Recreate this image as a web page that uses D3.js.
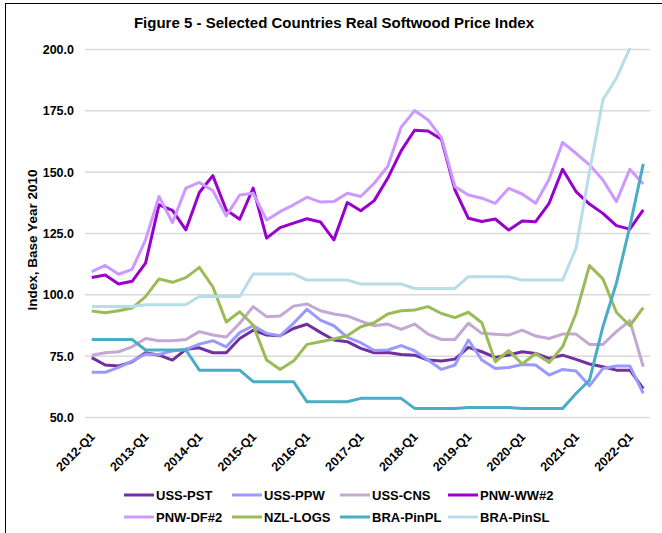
<!DOCTYPE html>
<html><head><meta charset="utf-8">
<script src="https://cdn.jsdelivr.net/npm/d3@7"></script>
<style>
html,body{margin:0;padding:0;background:#fff;}
svg{display:block;font-family:"Liberation Sans",Arial,sans-serif;}
</style></head>
<body><svg id="c" width="662" height="533"></svg>
<script>
const categories = [
 "2012-Q1","2012-Q2","2012-Q3","2012-Q4","2013-Q1","2013-Q2","2013-Q3","2013-Q4",
 "2014-Q1","2014-Q2","2014-Q3","2014-Q4","2015-Q1","2015-Q2","2015-Q3","2015-Q4",
 "2016-Q1","2016-Q2","2016-Q3","2016-Q4","2017-Q1","2017-Q2","2017-Q3","2017-Q4",
 "2018-Q1","2018-Q2","2018-Q3","2018-Q4","2019-Q1","2019-Q2","2019-Q3","2019-Q4",
 "2020-Q1","2020-Q2","2020-Q3","2020-Q4","2021-Q1","2021-Q2","2021-Q3","2021-Q4",
 "2022-Q1","2022-Q2"];
const tickLabels = ["2012-Q1","2013-Q1","2014-Q1","2015-Q1","2016-Q1","2017-Q1","2018-Q1","2019-Q1","2020-Q1","2021-Q1","2022-Q1"];
const yTicks = [50,75,100,125,150,175,200];

const seriesNames = ["USS-PST","USS-PPW","USS-CNS","PNW-WW#2","PNW-DF#2","NZL-LOGS","BRA-PinPL","BRA-PinSL"];
const ussPST = [74.4,71.4,71.0,72.7,76.4,75.4,73.4,77.8,78.4,76.4,76.4,82.2,85.6,83.6,83.3,86.3,88.0,84.7,81.6,80.9,78.2,76.4,76.5,75.7,75.4,73.4,73.0,73.8,78.6,76.8,74.5,75.5,76.8,76.1,74.1,75.4,73.7,71.8,70.7,69.3,69.3,61.8];
const ussPPW = [68.4,68.4,70.4,73.0,75.9,75.7,77.1,77.8,79.9,81.3,78.8,84.6,87.4,84.3,83.3,88.4,94.1,89.7,87.4,82.7,80.5,77.3,77.5,79.3,77.2,73.4,69.6,71.4,81.6,73.4,70.0,70.4,71.6,71.4,67.3,69.6,69.0,62.9,70.0,71.0,71.0,59.8];
const ussCNS = [75.4,76.4,76.8,78.8,82.2,81.3,81.3,81.8,85.0,83.6,82.8,88.4,95.2,91.1,91.4,95.4,96.3,93.5,92.2,91.4,89.3,87.4,88.1,85.9,88.1,84.0,81.8,81.8,88.4,84.3,83.9,83.6,85.6,83.2,82.2,84.0,84.0,79.8,79.8,85.0,89.5,70.7];
const pnwWW2 = [107.1,108.1,104.4,105.5,112.9,136.7,134.4,126.5,141.7,148.6,134.6,130.8,143.5,123.1,127.4,129.2,131.0,129.7,122.4,137.6,134.3,138.4,147.5,158.7,167.1,166.8,163.4,142.8,131.2,129.9,130.9,126.4,130.1,129.8,137.3,151.2,142.1,137.0,133.2,128.2,126.8,134.6];
const pnwDF2 = [109.5,112.0,108.4,110.4,122.4,140.1,129.5,143.5,145.8,142.5,132.2,140.7,141.4,130.5,133.9,136.7,139.8,137.8,138.0,141.4,140.1,145.5,152.3,168.3,175.1,171.3,164.1,144.1,140.7,139.4,137.3,143.4,141.1,137.3,147.1,162.1,157.7,153.0,146.8,138.0,151.2,145.2];
const nzlLOGS = [93.4,92.7,93.5,94.6,99.3,106.5,105.1,107.0,111.2,103.3,88.9,93.1,87.7,73.4,69.6,73.0,79.8,80.9,82.0,83.3,87.0,88.6,92.2,93.5,93.8,95.2,92.4,90.7,92.9,88.6,72.7,77.3,71.8,76.1,72.4,78.8,92.4,111.9,106.5,92.9,87.4,94.8];
const braPinPL = [81.8,81.8,81.8,81.8,77.5,77.5,77.5,77.5,69.3,69.3,69.3,69.3,64.6,64.6,64.6,64.6,56.4,56.4,56.4,56.4,57.8,57.8,57.8,57.8,53.7,53.7,53.7,53.7,54.1,54.1,54.1,54.1,53.7,53.7,53.7,53.7,59.8,65.2,87.0,104.7,127.8,153.4];
const braPinSL = [95.2,95.2,95.2,95.2,96.0,96.0,96.0,96.0,99.3,99.3,99.3,99.3,108.5,108.5,108.5,108.5,106.0,106.0,106.0,106.0,104.4,104.4,104.4,104.4,102.6,102.6,102.6,102.6,107.4,107.4,107.4,107.4,106.0,106.0,106.0,106.0,119.0,150.2,179.5,188.3,200.5,212.0];

const seriesValues = [ussPST,ussPPW,ussCNS,pnwWW2,pnwDF2,nzlLOGS,braPinPL,braPinSL];
const colors = ["#7030a0","#9999ff","#c3a8d3","#9900cc","#cc99ff","#9bbb59","#4bacc6","#b7dee8"];

const svg = d3.select("#c");
const L = 85, R = 650, T = 49.5, B = 417.5;

// frame
svg.append("rect").attr("x",5.5).attr("y",3.5).attr("width",700).attr("height",600)
  .attr("fill","none").attr("stroke","#000").attr("stroke-width",1);

const x = d3.scaleBand().domain(categories).range([L,R]).padding(0);
const xc = d => x(d) + x.bandwidth()/2;
const y = d3.scaleLinear().domain([50,200]).range([B,T]);

// gridlines
svg.append("g").selectAll("line").data(yTicks).join("line")
  .attr("x1",L).attr("x2",R).attr("y1",d=>y(d)).attr("y2",d=>y(d))
  .attr("stroke","#d9d9d9").attr("stroke-width",1.5);

// y axis labels
const yAxis = d3.axisLeft(y).tickValues(yTicks).tickFormat(d3.format(".1f")).tickSize(0).tickPadding(11);
const gy = svg.append("g").attr("transform",`translate(${L},0)`).call(yAxis);
gy.select(".domain").remove();
gy.selectAll("text").attr("font-size","12.5px").attr("font-weight","bold").attr("fill","#000")
  .attr("font-family","'Liberation Sans',Arial,sans-serif");

// x labels
const xAxis = d3.axisBottom(x).tickValues(tickLabels).tickSize(0).tickPadding(0);
const gx = svg.append("g").attr("transform",`translate(0,${B})`).call(xAxis);
gx.select(".domain").remove();
gx.selectAll("text").attr("font-size","12.5px").attr("font-weight","bold").attr("fill","#000")
  .attr("font-family","'Liberation Sans',Arial,sans-serif")
  .attr("text-anchor","end").attr("dy",null).attr("y",0)
  .attr("transform","translate(4,20) rotate(-45)");

// clip
svg.append("clipPath").attr("id","clip").append("rect")
  .attr("x",L).attr("y",T-1.5).attr("width",R-L).attr("height",B-T+3);

const line = d3.line().x((d,i)=>xc(categories[i])).y(d=>y(d));
const gl = svg.append("g").attr("clip-path","url(#clip)");
seriesValues.forEach((vals,k)=>{
  gl.append("path").datum(vals).attr("d",line)
    .attr("fill","none").attr("stroke",colors[k]).attr("stroke-width",3)
    .attr("stroke-linejoin","round");
});

// title
svg.append("text").attr("x",334).attr("y",28).attr("text-anchor","middle")
  .attr("font-size","15px").attr("font-weight","bold")
  .text("Figure 5 - Selected Countries Real Softwood Price Index");

// y title
svg.append("text").attr("transform","translate(37,240) rotate(-90)").attr("text-anchor","middle")
  .attr("font-size","13.5px").attr("font-weight","bold")
  .text("Index, Base Year 2010");

// legend
const colX = [124,232,340,448];
const rowY = [495,517];
seriesNames.forEach((n,k)=>{
  const cx = colX[k%4], cy = rowY[Math.floor(k/4)];
  svg.append("line").attr("x1",cx).attr("x2",cx+30).attr("y1",cy).attr("y2",cy)
    .attr("stroke",colors[k]).attr("stroke-width",3);
  svg.append("text").attr("x",cx+32).attr("y",cy+4.5).attr("font-size","13px")
    .attr("font-weight","bold").text(n);
});
</script></body></html>
